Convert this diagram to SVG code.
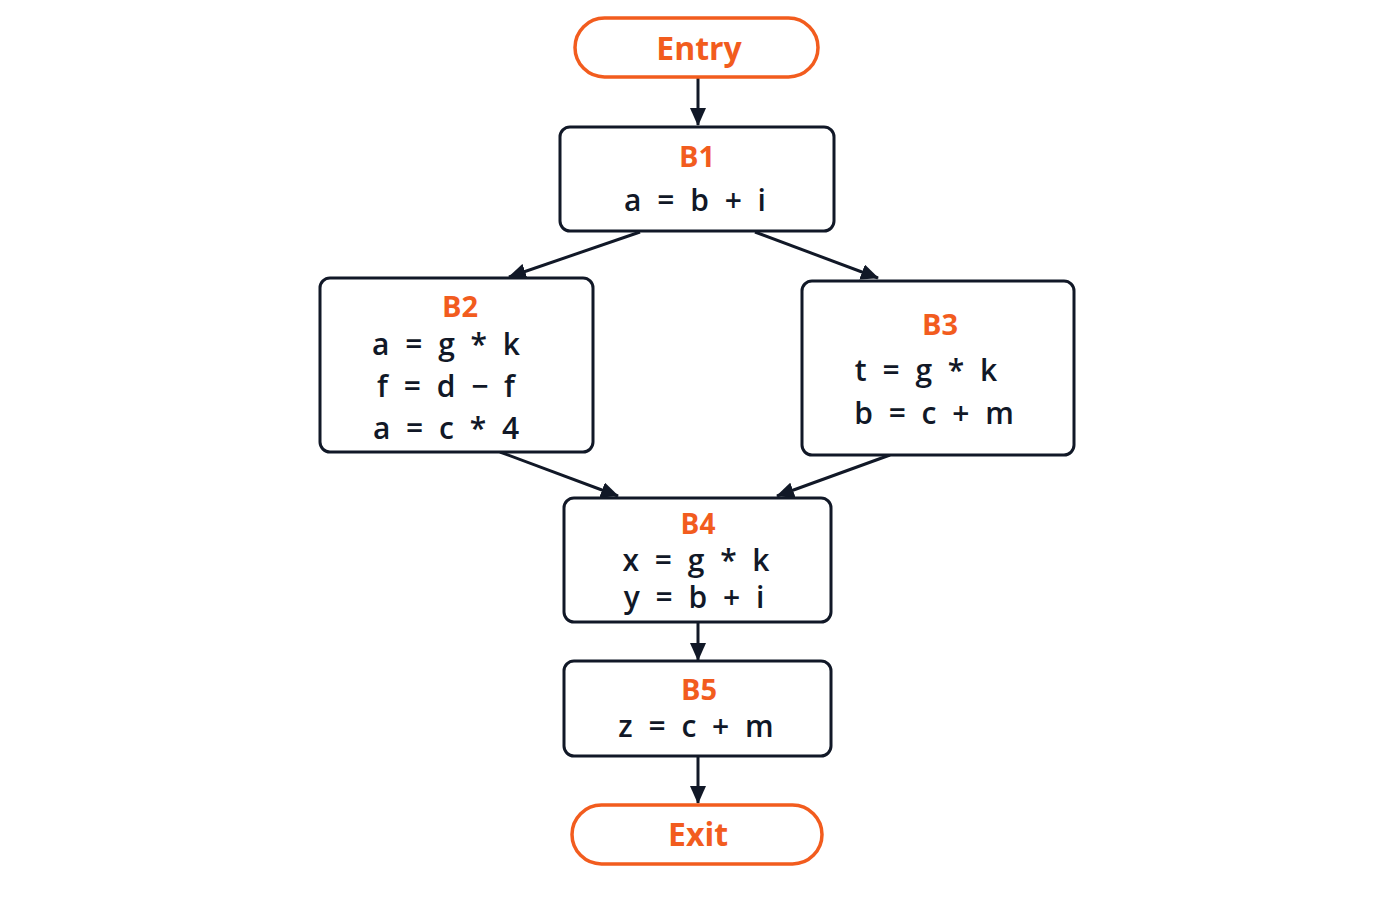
<svg xmlns="http://www.w3.org/2000/svg" width="1400" height="900" viewBox="0 0 1400 900">
<defs>
<marker id="ah" viewBox="0 0 18 16" refX="17" refY="8" markerWidth="18" markerHeight="16" orient="auto" markerUnits="userSpaceOnUse"><path d="M0,0 L18,8 L0,16 z" fill="#111827"/></marker>
<style>
.box{fill:#fff;stroke:#111827;stroke-width:3}
.term{fill:#fff;stroke:#F25C1E;stroke-width:3.5}
.lbl{font-family:"Open Sans","DejaVu Sans",sans-serif;font-weight:700;fill:#F25C1E;text-anchor:middle}
.code{font-family:"Open Sans","DejaVu Sans",sans-serif;font-weight:600;font-size:30px;fill:#111827;text-anchor:middle;letter-spacing:4px}
.edge{stroke:#111827;stroke-width:3;fill:none;marker-end:url(#ah)}
</style>
</defs>
<rect width="1400" height="900" fill="#fff"/>
<g id="connectors">
<line class="edge" x1="698" y1="78" x2="698" y2="125"/>
<line class="edge" x1="640" y1="232" x2="509" y2="277"/>
<line class="edge" x1="755" y1="232" x2="878" y2="278"/>
<line class="edge" x1="500" y1="452" x2="618" y2="496"/>
<line class="edge" x1="890" y1="455" x2="777" y2="496"/>
<line class="edge" x1="698" y1="623" x2="698" y2="660"/>
<line class="edge" x1="698" y1="757" x2="698" y2="803"/>
</g>
<g id="entry"><rect class="term" x="575" y="18" width="243" height="59" rx="29.5"/><text class="lbl" x="699" y="60" font-size="32">Entry</text></g>
<g id="b1"><rect class="box" x="560" y="127" width="274" height="104" rx="10"/><text class="lbl" x="697" y="167" font-size="29">B1</text><text class="code" x="697" y="211">a = b + i</text></g>
<g id="b2"><rect class="box" x="320" y="278" width="273" height="174" rx="10"/><text class="lbl" x="460" y="317" font-size="29">B2</text><text class="code" x="448" y="355">a = g * k</text><text class="code" x="448" y="397">f = d − f</text><text class="code" x="448" y="439">a = c * 4</text></g>
<g id="b3"><rect class="box" x="802" y="281" width="272" height="174" rx="10"/><text class="lbl" x="940" y="335" font-size="29">B3</text><text class="code" x="928" y="381">t = g * k</text><text class="code" x="936" y="424">b = c + m</text></g>
<g id="b4"><rect class="box" x="564" y="498" width="267" height="124" rx="10"/><text class="lbl" x="698" y="534" font-size="28">B4</text><text class="code" x="698" y="571">x = g * k</text><text class="code" x="696" y="608">y = b + i</text></g>
<g id="b5"><rect class="box" x="564" y="661" width="267" height="95" rx="10"/><text class="lbl" x="699" y="700" font-size="29">B5</text><text class="code" x="698" y="737">z = c + m</text></g>
<g id="exit"><rect class="term" x="572" y="805" width="250" height="59" rx="29.5"/><text class="lbl" x="698" y="846" font-size="32">Exit</text></g>
</svg>
